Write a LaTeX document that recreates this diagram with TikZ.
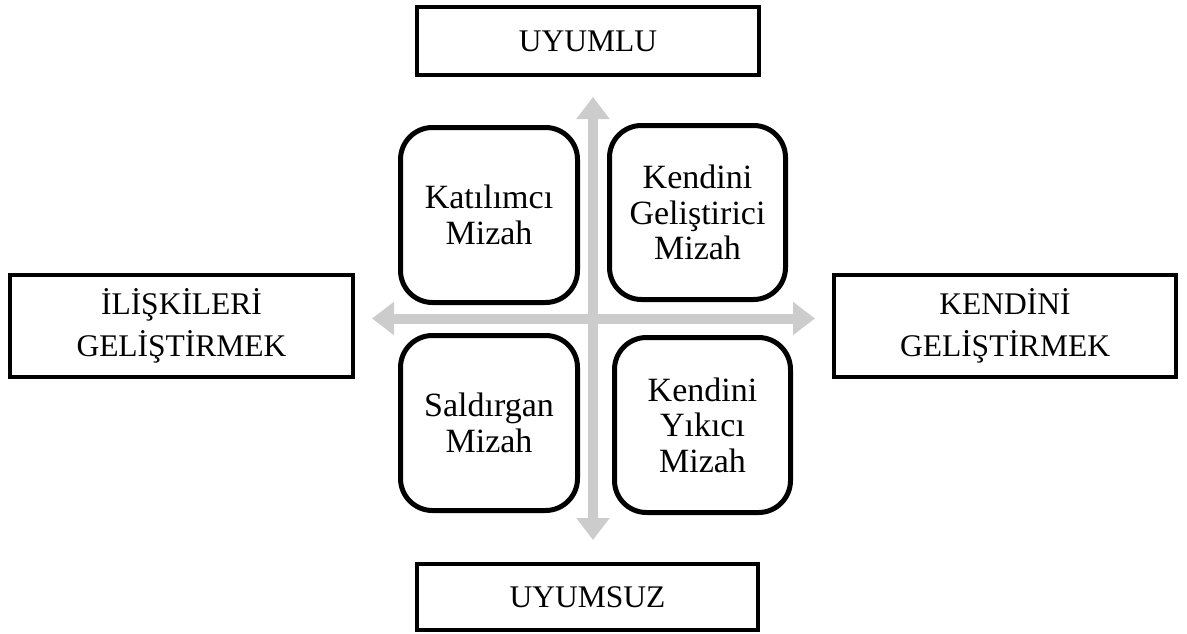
\documentclass[tikz,border=0pt]{standalone}
\usepackage{fontspec}
\setmainfont{Liberation Serif}
\usetikzlibrary{arrows.meta}

\begin{document}
\begin{tikzpicture}[x=1pt,y=-1pt,
    axisbox/.style={draw, line width=4pt, rectangle, align=center, inner sep=0pt,
        font=\fontsize{31.5}{42}\selectfont},
    humourbox/.style={draw, line width=5pt, rectangle, rounded corners=32pt,
        align=center, inner sep=0pt, minimum width=177pt, minimum height=175pt,
        font=\fontsize{34}{35.5}\selectfont},
    axisarrow/.style={line width=10pt, color=black!20,
        {Triangle[width=32pt,length=22pt]}-{Triangle[width=32pt,length=22pt]}}]
			%%%%% START %%%%%
			\useasboundingbox (0,0) rectangle (1187,634);
			
			\coordinate (vtop) at (593,97);
			\coordinate (vbot) at (593,540);
			\coordinate (hleft) at (372,318.5);
			\coordinate (hright) at (815,318.5);
			
			\draw[axisarrow] (vbot) -- (vtop);
			\draw[axisarrow] (hleft) -- (hright);
			
			\node[axisbox, minimum width=342pt, minimum height=68pt] (uyumlu) at (588,41) {UYUMLU};
			\node[axisbox, minimum width=341pt, minimum height=66pt] (uyumsuz) at (587.5,597) {UYUMSUZ};
			\node[axisbox, minimum width=343pt, minimum height=102pt] (iliski) at (181.5,326) {İLİŞKİLERİ\\GELİŞTİRMEK};
			\node[axisbox, minimum width=342pt, minimum height=102pt] (kendi) at (1005,326) {KENDİNİ\\GELİŞTİRMEK};
			
			\node[humourbox] (katilimci) at (489,215) {Katılımcı\\Mizah};
			\node[humourbox, minimum width=176pt, minimum height=174pt] (gelistirici) at (697.5,212.5) {Kendini\\Geliştirici\\Mizah};
			\node[humourbox] (saldirgan) at (489,423) {Saldırgan\\Mizah};
			\node[humourbox, minimum width=176pt] (yikici) at (702.5,425) {Kendini\\Yıkıcı\\Mizah};
			
			%%%%% END %%%%%
		\end{tikzpicture}
\end{document}
